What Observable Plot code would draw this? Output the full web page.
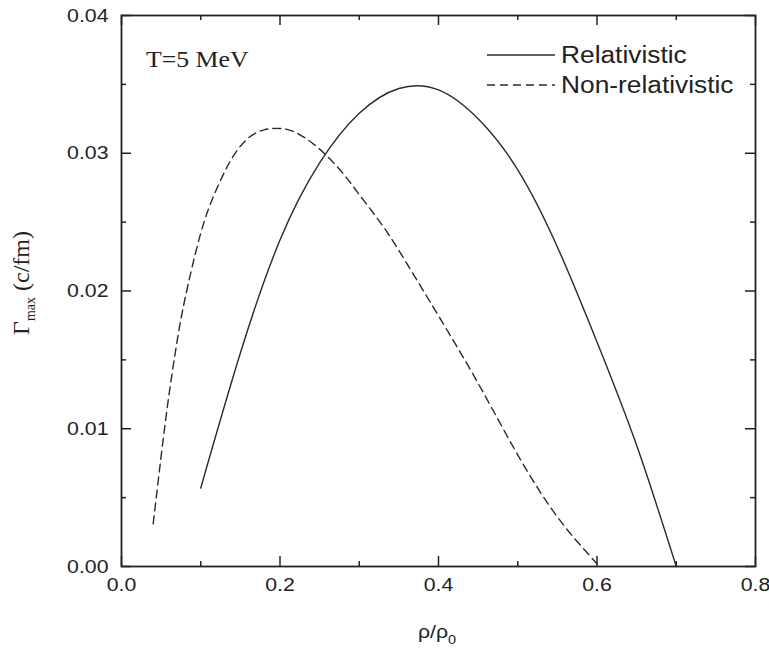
<!DOCTYPE html>
<html>
<head>
<meta charset="utf-8">
<script src="https://cdn.jsdelivr.net/npm/d3@7"></script>
<script src="https://cdn.jsdelivr.net/npm/@observablehq/plot@0.6"></script>
<style>
  html, body { margin: 0; padding: 0; background: #fff; }
  #chart { width: 769px; height: 651px; }
</style>
</head>
<body>
<div id="chart"></div>
<script>
// ---- data ----
const rhoRel   = [0.10, 0.15, 0.20, 0.25, 0.30, 0.35, 0.40, 0.45, 0.50, 0.55, 0.60, 0.65, 0.70];
const gammaRel = [0.0057, 0.0155, 0.0237, 0.0293, 0.0329, 0.0347, 0.0346, 0.0325, 0.0288, 0.0232, 0.0163, 0.0088, 0.0000];

const rhoNon   = [0.04, 0.05, 0.06, 0.07, 0.08, 0.10, 0.12, 0.14, 0.16, 0.18, 0.20, 0.22, 0.25, 0.28, 0.30, 0.33, 0.36, 0.40, 0.45, 0.50, 0.55, 0.60];
const gammaNon = [0.0031, 0.0080, 0.0125, 0.0163, 0.0194, 0.0242, 0.0274, 0.0297, 0.0311, 0.0317, 0.0318, 0.0315, 0.0303, 0.0285, 0.0270, 0.0247, 0.0220, 0.0182, 0.0133, 0.0081, 0.0036, 0.0002];

const xTicks = [0, 0.2, 0.4, 0.6, 0.8];
const xMinor = [0.1, 0.3, 0.5, 0.7];
const yTicks = [0, 0.01, 0.02, 0.03, 0.04];
const yMinor = [0.005, 0.015, 0.025, 0.035];

const seriesNames = ["Relativistic", "Non-relativistic"];
const annotation = "T=5 MeV";

const rel = rhoRel.map((x, i) => ({x, y: gammaRel[i]}));
const non = rhoNon.map((x, i) => ({x, y: gammaNon[i]}));

const W = 769, H = 651, ML = 121, MR = 14, MT = 15, MB = 85;
const PW = W - ML - MR, PH = H - MT - MB;
const major = 10, minor = 5;
const ink = "#222";
const stretch = 1.12; // reference text is slightly wider than tall

const chart = Plot.plot({
  width: W, height: H,
  marginLeft: ML, marginRight: MR, marginTop: MT, marginBottom: MB,
  x: {domain: [0, 0.8]},
  y: {domain: [0, 0.04]},
  style: {fontFamily: "'Liberation Sans', Arial, sans-serif", fontSize: "19px", color: ink, background: "#fff"},
  marks: [
    Plot.axisX({ticks: xTicks, tickSize: 0, tickPadding: 11, tickFormat: d3.format(".1f"), label: null, fontSize: 19}),
    Plot.axisY({ticks: yTicks, tickSize: 0, tickPadding: 13, tickFormat: d3.format(".2f"), label: null, fontSize: 19}),
    // inward ticks, bottom/top
    Plot.ruleX(xTicks, {x: d => d, insetTop: PH - major, stroke: ink, strokeWidth: 1.5}),
    Plot.ruleX(xMinor, {x: d => d, insetTop: PH - minor, stroke: ink, strokeWidth: 1.5}),
    Plot.ruleX(xTicks, {x: d => d, insetBottom: PH - major, stroke: ink, strokeWidth: 1.5}),
    Plot.ruleX(xMinor, {x: d => d, insetBottom: PH - minor, stroke: ink, strokeWidth: 1.5}),
    // inward ticks, left/right
    Plot.ruleY(yTicks, {y: d => d, insetRight: PW - major, stroke: ink, strokeWidth: 1.5}),
    Plot.ruleY(yMinor, {y: d => d, insetRight: PW - minor, stroke: ink, strokeWidth: 1.5}),
    Plot.ruleY(yTicks, {y: d => d, insetLeft: PW - major, stroke: ink, strokeWidth: 1.5}),
    Plot.ruleY(yMinor, {y: d => d, insetLeft: PW - minor, stroke: ink, strokeWidth: 1.5}),
    Plot.line(rel, {x: "x", y: "y", curve: "natural", stroke: "#2a2a2a", strokeWidth: 1.4}),
    Plot.line(non, {x: "x", y: "y", curve: "natural", stroke: "#2a2a2a", strokeWidth: 1.4, strokeDasharray: "8,5"}),
    Plot.frame({stroke: ink, strokeWidth: 1.8})
  ]
});

document.getElementById("chart").appendChild(chart);

const svg = d3.select(chart);

// widen tick labels to match the reference's proportions
svg.selectAll("g[aria-label='x-axis tick label'] text, g[aria-label='y-axis tick label'] text")
  .attr("transform", function () {
    const t = this.getAttribute("transform") || "";
    return t + ` scale(${stretch},1)`;
  });

// ---- annotations, legend, axis titles ----
const serif = "'Liberation Serif', 'Times New Roman', serif";
const sans = "'Liberation Sans', Arial, sans-serif";

svg.append("text")
  .attr("transform", `translate(146,67) scale(${stretch},1)`)
  .attr("text-anchor", "start")
  .style("font-family", serif).style("font-size", "23px").attr("fill", ink)
  .text(annotation);

const legend = svg.append("g");
[[0, null, 55], [1, "8,5", 85]].forEach(([i, dash, y]) => {
  legend.append("line")
    .attr("x1", 487).attr("x2", 555).attr("y1", y).attr("y2", y)
    .attr("stroke", "#2a2a2a").attr("stroke-width", 1.6)
    .attr("stroke-dasharray", dash);
  legend.append("text")
    .attr("transform", `translate(561,${y + 8}) scale(${stretch},1)`)
    .attr("text-anchor", "start")
    .style("font-family", sans).style("font-size", "23.5px").attr("fill", ink)
    .text(seriesNames[i]);
});

// x axis title ρ/ρ0
const xt = svg.append("text")
  .attr("transform", `translate(437,638) scale(${stretch},1)`)
  .attr("text-anchor", "middle")
  .style("font-family", sans).style("font-size", "19px").attr("fill", ink);
xt.append("tspan").text("ρ/ρ");
xt.append("tspan").style("font-size", "13px").attr("dy", 6).text("0");

// y axis title Γmax (c/fm)
const yt = svg.append("text")
  .attr("transform", `translate(29, 283) rotate(-90)`)
  .attr("text-anchor", "middle")
  .style("font-family", serif).style("font-size", "24px").attr("fill", ink);
yt.append("tspan").text("Γ");
yt.append("tspan").style("font-size", "14px").attr("dy", 6).text("max");
yt.append("tspan").attr("dy", -6).text(" (c/fm)");
</script>
</body>
</html>
